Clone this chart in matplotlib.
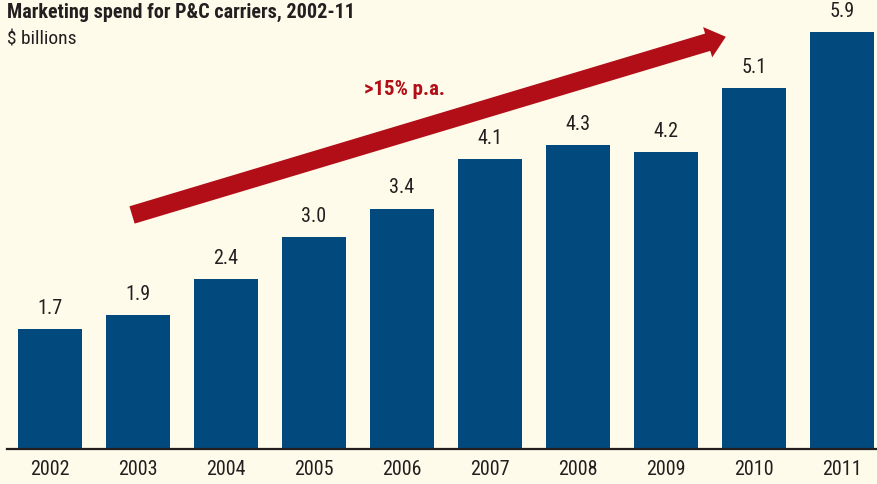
import matplotlib
matplotlib.use('Agg')
import matplotlib.pyplot as plt

# Marketing spend for P&C carriers, $ billions
years = ['2002', '2003', '2004', '2005', '2006', '2007', '2008', '2009', '2010', '2011']
spend = [1.7, 1.9, 2.4, 3.0, 3.4, 4.1, 4.3, 4.2, 5.1, 5.9]

BG = '#FFFBEA'
BAR = '#024A7D'
RED = '#B10E18'
INK = '#231F20'

plt.rcParams['font.family'] = ['Roboto Condensed', 'DejaVu Sans']

fig = plt.figure(figsize=(8.77, 4.84), dpi=100, facecolor=BG)
ax = fig.add_axes([7 / 877, 35 / 484, 870 / 877, 449 / 484])
ax.set_facecolor(BG)

x = list(range(len(years)))
bars = ax.bar(x, spend, width=0.727, color=BAR, zorder=2)

for xi, v in zip(x, spend):
    ax.annotate(f'{v:.1f}', xy=(xi, v), xytext=(0, 8), textcoords='offset points',
                ha='center', va='bottom', fontsize=14.5, color=INK)

ax.set_xlim(-0.489, 9.398)
ax.set_ylim(0, 6.35)

for s in ['top', 'right', 'left']:
    ax.spines[s].set_visible(False)
ax.spines['bottom'].set_color(INK)
ax.spines['bottom'].set_linewidth(1.6)
ax.set_yticks([])
ax.set_xticks(x)
ax.set_xticklabels(years, fontsize=14.5, color=INK)
ax.tick_params(axis='x', length=0, pad=8)

# growth arrow
ax.annotate('', xy=(7.68, 5.83), xytext=(0.932, 3.31),
            arrowprops=dict(arrowstyle='simple,head_width=1.75,head_length=1.05,tail_width=1.0',
                            mutation_scale=13, color=RED, shrinkA=0, shrinkB=0, lw=0),
            zorder=3)
ax.text(4.03, 5.08, '>15% p.a.', ha='center', va='center', fontsize=15,
        fontweight='bold', color=RED)

fig.text(7 / 877, 1 - 3 / 484, 'Marketing spend for P&C carriers, 2002-11', ha='left', va='top',
         fontsize=14.5, fontweight='bold', color=INK)
fig.text(7 / 877, 1 - 31 / 484, '$ billions', ha='left', va='top', fontsize=14, color=INK)

fig.savefig('out.png', dpi=100, facecolor=BG)
